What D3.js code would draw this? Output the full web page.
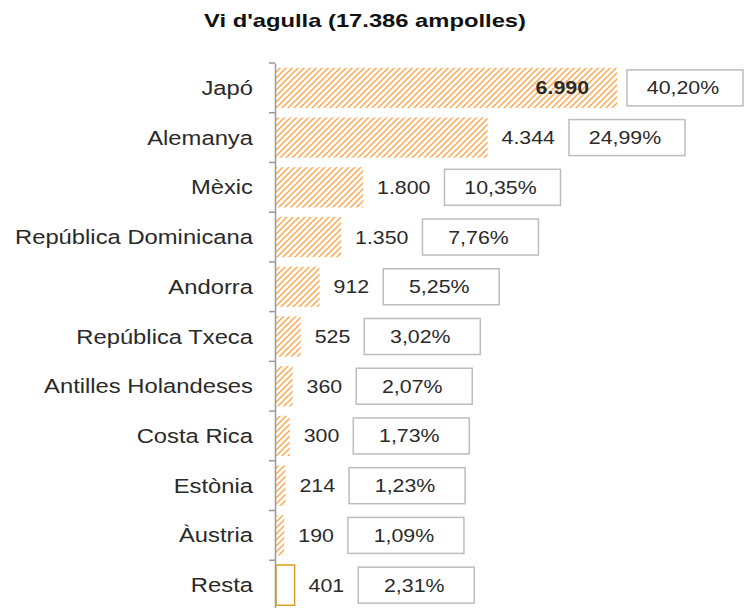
<!DOCTYPE html>
<html>
<head>
<meta charset="utf-8">
<script src="https://cdn.jsdelivr.net/npm/d3@7"></script>
<style>
  body { margin: 0; background: #fff; }
  text { font-family: "Liberation Sans", Arial, sans-serif; }
</style>
</head>
<body>
<div id="chart"></div>
<script>
// vi d'agulla, ampolles per pais
var titleText = "Vi d'agulla (17.386 ampolles)";
var countries = ["Japó", "Alemanya", "Mèxic", "República Dominicana", "Andorra",
                 "República Txeca", "Antilles Holandeses", "Costa Rica", "Estònia", "Àustria", "Resta"];
var bottles = [6990, 4344, 1800, 1350, 912, 525, 360, 300, 214, 190, 401];
var shares = ["40,20%", "24,99%", "10,35%", "7,76%", "5,25%", "3,02%", "2,07%", "1,73%", "1,23%", "1,09%", "2,31%"];

var width = 744, height = 608;
var sx = 1.22; // text looks stretched sideways in the original

var cat = d3.formatLocale({decimal: ",", thousands: ".", grouping: [3], currency: ["", " €"]});
var fmt = cat.format(",d");

var svg = d3.select("#chart").append("svg").attr("width", width).attr("height", height);

var defs = svg.append("defs");
var hp = 6;
var pat = defs.append("pattern").attr("id", "hatch")
    .attr("patternUnits", "userSpaceOnUse").attr("width", hp).attr("height", hp);
pat.append("path")
    .attr("d", "M-1,1 l2,-2 M0," + hp + " l" + hp + "," + (-hp) + " M" + (hp - 1) + "," + (hp + 1) + " l2,-2")
    .attr("stroke", "#ffa850").attr("stroke-width", 1.5);

var x = d3.scaleLinear().domain([0, 7000]).range([275, 617.5]);
var y = d3.scaleBand().domain(countries).range([63, 610]).paddingInner(0.19).paddingOuter(0.095);

function stretched(sel, px, py) {
    return sel.attr("transform", function(d, i) {
        return "translate(" + px(d, i) + "," + py(d, i) + ") scale(" + sx + ",1)";
    });
}

svg.append("text")
    .attr("transform", "translate(365,27) scale(1.25,1)")
    .attr("text-anchor", "middle")
    .attr("font-size", 19).attr("font-weight", "bold").attr("fill", "#111")
    .text(titleText);

// bars
svg.selectAll("rect.bar").data(bottles).enter().append("rect")
    .attr("class", "bar")
    .attr("x", x(0) + 1)
    .attr("y", function(d, i) { return y(countries[i]); })
    .attr("width", function(d) { return x(d) - x(0) - 1; })
    .attr("height", y.bandwidth())
    .attr("fill", function(d, i) { return countries[i] == "Resta" ? "none" : "url(#hatch)"; })
    .attr("stroke", function(d, i) { return countries[i] == "Resta" ? "#d9a21e" : "none"; })
    .attr("stroke-width", 1.5);

// axis
var yAxis = d3.axisLeft(y).tickSize(0).tickPadding(22);
var ax = svg.append("g").attr("transform", "translate(" + x(0) + ",0)").call(yAxis);
ax.select(".domain").attr("stroke", "#999").attr("stroke-width", 1.5);
ax.selectAll(".tick text").remove();
// band boundary ticks
var bounds = countries.map(function(c) { return y(c) - y.step() * y.paddingInner() / 2; });
ax.selectAll("line.bt").data(bounds).enter().append("line")
    .attr("class", "bt")
    .attr("x1", -6).attr("x2", 0)
    .attr("y1", function(d) { return d; }).attr("y2", function(d) { return d; })
    .attr("stroke", "#999").attr("stroke-width", 1.5);

stretched(svg.selectAll("text.cat").data(countries).enter().append("text").attr("class", "cat"),
    function() { return x(0) - 22; },
    function(d) { return y(d) + y.bandwidth() / 2 + 7; })
    .attr("text-anchor", "end").attr("font-size", 19.5).attr("fill", "#2a2a2a")
    .text(function(d) { return d; });

// value labels and share boxes
bottles.forEach(function(v, i) {
    var cy = y(countries[i]) + y.bandwidth() / 2;
    var inside = i == 0;
    var t = svg.append("text")
        .attr("font-size", 17.5).attr("fill", "#2a2a2a")
        .attr("font-weight", inside ? "bold" : "normal")
        .attr("text-anchor", inside ? "end" : "start")
        .text(fmt(v));
    var lx = inside ? x(v) - 28 : x(v) + 14;
    t.attr("transform", "translate(" + lx + "," + (cy + 6.5) + ") scale(" + sx + ",1)");
    var bx = inside ? x(v) + 10 : lx + t.node().getComputedTextLength() * sx + 14;
    var bw = 116, bh = 36;
    svg.append("rect")
        .attr("x", bx).attr("y", cy - bh / 2)
        .attr("width", bw).attr("height", bh)
        .attr("fill", "#fff").attr("stroke", "#bdbdbd").attr("stroke-width", 1.5);
    svg.append("text")
        .attr("transform", "translate(" + (bx + bw / 2 - 2) + "," + (cy + 6.5) + ") scale(" + sx + ",1)")
        .attr("text-anchor", "middle").attr("font-size", 17.5).attr("fill", "#2a2a2a")
        .text(shares[i]);
});
</script>
</body>
</html>
